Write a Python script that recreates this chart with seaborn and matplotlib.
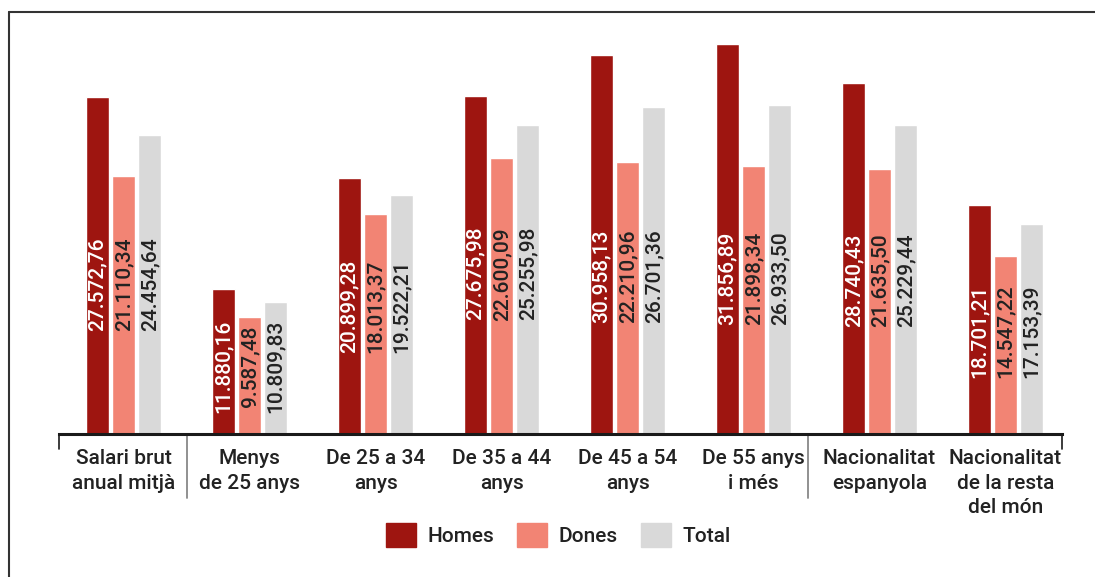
import pandas as pd
import numpy as np
import seaborn as sns
import matplotlib.pyplot as plt
from matplotlib.lines import Line2D
from matplotlib.patches import Patch

# data
categories = ['Salari brut\nanual mitjà', 'Menys\nde 25 anys', 'De 25 a 34\nanys',
              'De 35 a 44\nanys', 'De 45 a 54\nanys', 'De 55 anys\ni més',
              'Nacionalitat\nespanyola', 'Nacionalitat\nde la resta\ndel món']
homes = [27572.76, 11880.16, 20899.28, 27675.98, 30958.13, 31856.89, 28740.43, 18701.21]
dones = [21110.34, 9587.48, 18013.37, 22600.09, 22210.96, 21898.34, 21635.50, 14547.22]
total = [24454.64, 10809.83, 19522.21, 25255.98, 26701.36, 26933.50, 25229.44, 17153.39]
series = ['Homes', 'Dones', 'Total']
colors = ['#9e1510', '#f28474', '#d9d9d9']
text_colors = ['white', '#222222', '#222222']


# catalan number format: 27.572,76
def fmt_ca(v):
    s = f"{v:,.2f}"
    return s.replace(',', 'X').replace('.', ',').replace('X', '.')


df = pd.DataFrame({
    'categoria': categories * 3,
    'serie': [s for s in series for _ in categories],
    'valor': homes + dones + total,
})

sns.set_style('white')
plt.rcParams['font.family'] = ['Roboto', 'DejaVu Sans']
plt.rcParams['font.weight'] = 'medium'

fig = plt.figure(figsize=(10.95, 5.77), dpi=100)
ax = fig.add_axes([59 / 1095, 143 / 577, 1003 / 1095, 428 / 577])

sns.barplot(data=df, x='categoria', y='valor', hue='serie', order=categories,
            hue_order=series, palette=colors, width=0.62, gap=0.115,
            saturation=1, legend=False, ax=ax)

ax.set_ylim(0, 35000)
ax.set_xlim(-0.512, 7.448)

# value labels, rotated inside the bars
group_min = [min(h, d, t) for h, d, t in zip(homes, dones, total)]
for k, cont in enumerate(ax.containers):
    for i, bar in enumerate(cont):
        xc = bar.get_x() + bar.get_width() / 2
        ax.text(xc, 0.58 * group_min[i], fmt_ca(bar.get_height()), rotation=90,
                ha='center', va='center', fontsize=15, fontweight='medium',
                color=text_colors[k])

# axes styling
for side in ['top', 'right', 'left']:
    ax.spines[side].set_visible(False)
ax.spines['bottom'].set_color('#1a1a1a')
ax.spines['bottom'].set_linewidth(2.2)
ax.set_yticks([])
ax.set_xlabel('')
ax.set_ylabel('')
ax.tick_params(axis='x', length=0, pad=11, labelsize=15, labelcolor='#222222')
ax.set_xticks(range(len(categories)))
ax.set_xticklabels(categories, linespacing=1.35, fontweight='medium')

# end ticks and group separators below the axis
for xe in ax.get_xlim():
    ax.plot([xe, xe], [0, -0.035], color='#1a1a1a', lw=1.2,
            transform=ax.get_xaxis_transform(), clip_on=False)
for xs in [0.5, 5.43]:
    ax.plot([xs, xs], [-0.005, -0.15], color='#888888', lw=1.3,
            transform=ax.get_xaxis_transform(), clip_on=False)

# legend
handles = [Patch(facecolor=c, edgecolor=c) for c in colors]
fig.legend(handles, series, loc='center', bbox_to_anchor=(558 / 1095, 1 - 535 / 577),
           ncol=3, frameon=False, fontsize=15, handlelength=1.45, handleheight=1.45,
           handletextpad=0.55, columnspacing=1.1, labelcolor='#222222',
           prop={'weight': 'medium', 'size': 15})

# outer frame (top and left edges)
yf = 1 - 12 / 577
xf = 9 / 1095
fig.add_artist(Line2D([xf, 1], [yf, yf], color='#333333', lw=1.5))
fig.add_artist(Line2D([xf, xf], [yf, 0], color='#333333', lw=1.5))

fig.savefig('out.png', dpi=100)
